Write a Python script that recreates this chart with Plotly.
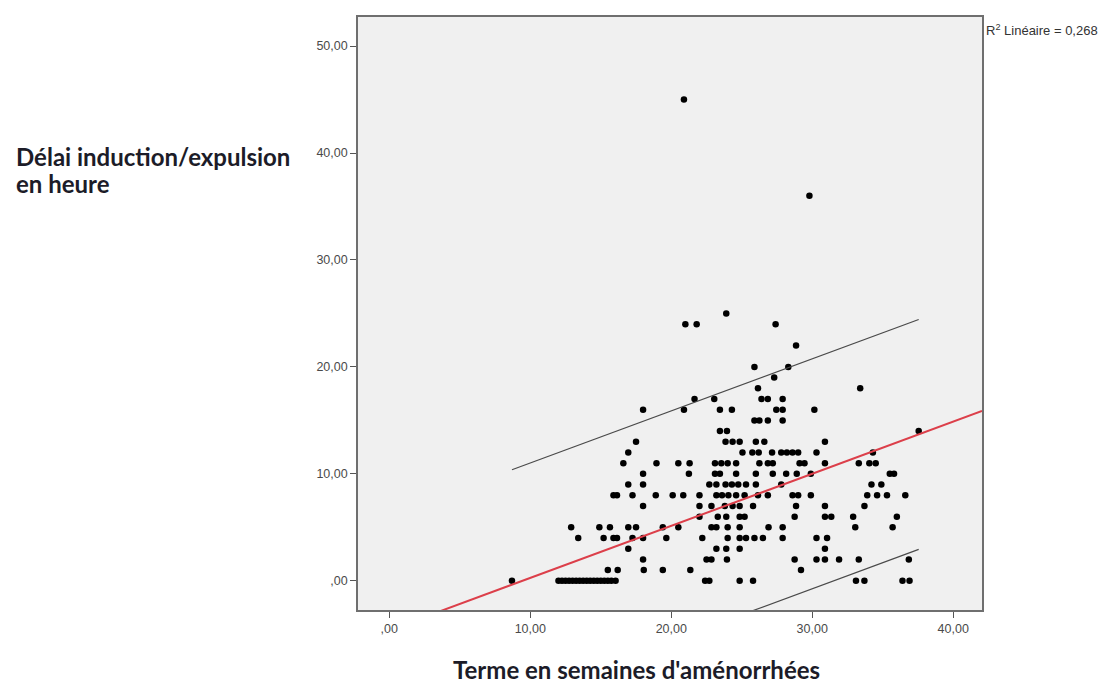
import plotly.graph_objects as go

# term (weeks of amenorrhoea) and induction-to-expulsion delay (hours)
term_weeks = [
    8.7, 12.0, 12.25, 12.5, 12.75, 13.0, 13.25, 13.5, 13.75, 14.0, 14.25, 14.5, 14.75,
    15.0, 15.25, 15.5, 15.75, 16.05, 22.4, 22.7, 24.85, 25.8, 33.1, 33.7, 36.4, 36.9,
    15.5, 16.2, 18.05, 19.4, 21.35, 29.2,
    18.0, 22.5, 22.85, 23.95, 28.75, 30.3, 30.9, 31.9, 33.3, 36.85,
    16.95, 23.2, 23.9, 24.85, 30.9,
    13.4, 15.2, 15.9, 16.15, 17.25, 18.0, 19.65, 22.2, 24.0, 24.85, 25.3, 25.9, 26.5, 27.9, 30.3, 31.05,
    12.9, 14.9, 15.65, 16.95, 17.5, 19.4, 20.5, 22.85, 23.2, 24.0, 24.85, 26.9, 27.9, 33.05, 35.7,
    22.0, 23.3, 23.9, 24.85, 25.2, 28.75, 30.9, 31.35, 32.9, 36.0,
    18.0, 22.0, 22.85, 23.8, 24.35, 24.85, 25.8, 28.85, 30.9, 33.7,
    15.9, 16.15, 17.25, 18.9, 20.1, 20.85, 22.0, 23.2, 23.6, 24.05, 24.6, 25.2, 26.15, 26.85,
    28.6, 29.0, 29.9, 33.9, 34.6, 35.3, 36.6,
    16.95, 18.0, 22.7, 23.2, 23.85, 24.3, 24.75, 25.3, 26.0, 27.8, 34.2, 34.9,
    18.0, 21.25, 23.1, 23.45, 24.6, 26.0, 27.2, 28.15, 28.9, 29.9, 35.5, 35.8,
    16.6, 18.95, 20.5, 21.3, 23.1, 23.55, 24.0, 24.6, 26.25, 26.85, 27.2, 29.1, 29.45, 30.9,
    33.3, 34.05, 34.5,
    16.95, 25.05, 25.75, 26.2, 27.15, 27.8, 28.2, 28.6, 29.0, 30.3, 34.3,
    17.5, 23.85, 24.35, 24.85, 26.0, 26.6, 30.9,
    23.45, 23.95, 37.55,
    25.9, 26.25, 26.85, 27.9,
    18.0, 20.9, 23.45, 24.3, 27.45, 27.9, 30.15,
    21.65, 23.05, 26.4, 26.85, 27.9,
    26.15, 33.4,
    27.3,
    25.9, 28.3,
    28.85,
    21.0, 21.8, 27.4,
    23.9,
    29.8,
    20.9,
]
delay_hours = [
    0, 0, 0, 0, 0, 0, 0, 0, 0, 0, 0, 0, 0,
    0, 0, 0, 0, 0, 0, 0, 0, 0, 0, 0, 0, 0,
    1, 1, 1, 1, 1, 1,
    2, 2, 2, 2, 2, 2, 2, 2, 2, 2,
    3, 3, 3, 3, 3,
    4, 4, 4, 4, 4, 4, 4, 4, 4, 4, 4, 4, 4, 4, 4, 4,
    5, 5, 5, 5, 5, 5, 5, 5, 5, 5, 5, 5, 5, 5, 5,
    6, 6, 6, 6, 6, 6, 6, 6, 6, 6,
    7, 7, 7, 7, 7, 7, 7, 7, 7, 7,
    8, 8, 8, 8, 8, 8, 8, 8, 8, 8, 8, 8, 8, 8,
    8, 8, 8, 8, 8, 8, 8,
    9, 9, 9, 9, 9, 9, 9, 9, 9, 9, 9, 9,
    10, 10, 10, 10, 10, 10, 10, 10, 10, 10, 10, 10,
    11, 11, 11, 11, 11, 11, 11, 11, 11, 11, 11, 11, 11, 11,
    11, 11, 11,
    12, 12, 12, 12, 12, 12, 12, 12, 12, 12, 12,
    13, 13, 13, 13, 13, 13, 13,
    14, 14, 14,
    15, 15, 15, 15,
    16, 16, 16, 16, 16, 16, 16,
    17, 17, 17, 17, 17,
    18, 18,
    19,
    20, 20,
    22,
    24, 24, 24,
    25,
    36,
    45,
]

# linear fit and 95% individual prediction band as drawn (R2 = 0,268)
fit_intercept = -4.6
fit_slope = 0.487
band_half_width = 10.75
r2_label = "R<sup>2</sup> Linéaire = 0,268"

x_ticks = [0, 10, 20, 30, 40]
x_ticklabels = [",00", "10,00", "20,00", "30,00", "40,00"]
y_ticks = [0, 10, 20, 30, 40, 50]
y_ticklabels = [",00", "10,00", "20,00", "30,00", "40,00", "50,00"]

x_range = [-2.22, 42.04]
y_range = [-2.73, 52.72]

fig = go.Figure()

fig.add_trace(go.Scatter(x=term_weeks, y=delay_hours, mode="markers",
                         marker=dict(color="black", size=6.5), showlegend=False))

# fit line across the whole axis
fit_x = list(x_range)
fig.add_trace(go.Scatter(x=fit_x, y=[fit_intercept + fit_slope * v for v in fit_x], mode="lines",
                         line=dict(color="#dc3f4a", width=2), showlegend=False))

# prediction band over the observed range
band_x = [min(term_weeks), max(term_weeks)]
for sign in (1, -1):
    fig.add_trace(go.Scatter(x=band_x,
                             y=[fit_intercept + fit_slope * v + sign * band_half_width for v in band_x],
                             mode="lines", line=dict(color="#4a4a4a", width=1.2), showlegend=False))

axis_style = dict(showgrid=False, zeroline=False, showline=True, mirror=True,
                  linecolor="#6f6f6f", linewidth=1.6, ticks="outside", ticklen=6,
                  tickcolor="#555555", tickwidth=1.4,
                  tickfont=dict(family="Liberation Sans, Arial", size=12.5, color="#4a4a4a"))
fig.update_xaxes(range=x_range, tickvals=x_ticks, ticktext=x_ticklabels, **axis_style)
fig.update_yaxes(range=y_range, tickvals=y_ticks, ticktext=y_ticklabels, **axis_style)

# the page body adds an 8px offset, so the figure is 8px smaller than the window
title_font = dict(family="Lato, Open Sans, sans-serif", size=24, color="#1c1c28")
fig.update_layout(
    width=1105, height=680,
    margin=dict(l=350, r=131, t=7, b=78),
    paper_bgcolor="white", plot_bgcolor="#f0f0f0",
    annotations=[
        dict(text="<b>Délai induction/expulsion</b>", xref="paper", yref="paper",
             x=-0.551, y=0.765, xanchor="left", yanchor="middle", align="left",
             showarrow=False, font=title_font),
        dict(text="<b>en heure</b>", xref="paper", yref="paper",
             x=-0.551, y=0.719, xanchor="left", yanchor="middle", align="left",
             showarrow=False, font=title_font),
        dict(text="<b>Terme en semaines d'aménorrhées</b>", xref="paper", yref="paper",
             x=0.447, y=-0.0996, xanchor="center", yanchor="middle",
             showarrow=False, font=title_font),
        dict(text=r2_label, xref="paper", yref="paper", x=1.003, y=0.978,
             xanchor="left", yanchor="middle", showarrow=False,
             font=dict(family="Liberation Sans, Arial", size=13, color="#333333")),
    ],
)

fig.write_html("out.html")
